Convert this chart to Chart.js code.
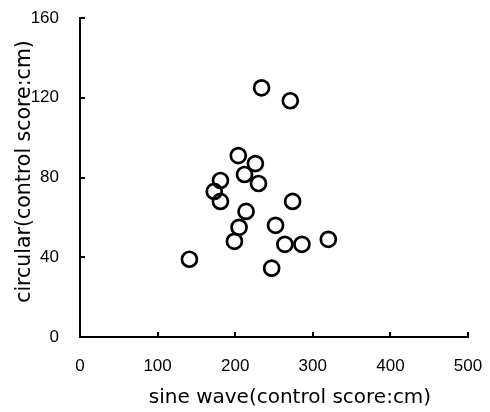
<!DOCTYPE html>
<html>
<head>
<meta charset="utf-8">
<script src="https://cdn.jsdelivr.net/npm/chart.js@4"></script>
<style>
  html, body { margin: 0; padding: 0; background: #fff; }
  #wrap { width: 490px; height: 412px; }
</style>
</head>
<body>
<div id="wrap"><canvas id="grafico" width="490" height="412"></canvas></div>
<script>
// values
const sineWave = [234, 271, 204, 226, 212, 230, 181, 173, 181, 274, 214, 252, 205, 199, 264, 286, 320, 141, 247];
const circular = [125, 118.5, 91, 87, 81.5, 77, 78.5, 73, 68, 68, 63, 56, 55, 48, 46.5, 46.5, 49, 39, 34.5];
const xTicks = [0, 100, 200, 300, 400, 500];
const yTicks = [0, 40, 80, 120, 160];
const xTitle = "sine wave(control score:cm)";
const yTitle = "circular(control score:cm)";

const puntos = sineWave.map((x, i) => ({ x: x, y: circular[i] }));

// inward tick marks + axis titles
const extras = {
  id: 'extras',
  afterDraw(chart) {
    const ctx = chart.ctx;
    const xs = chart.scales.x, ys = chart.scales.y;
    const area = chart.chartArea;
    ctx.save();
    ctx.strokeStyle = '#000';
    ctx.lineWidth = 2;
    ctx.beginPath();
    xTicks.forEach(v => {
      const px = Math.round(xs.getPixelForValue(v));
      if (v === 0) return;
      ctx.moveTo(px, ys.bottom);
      ctx.lineTo(px, ys.bottom - 5);
    });
    yTicks.forEach(v => {
      const py = Math.round(ys.getPixelForValue(v));
      if (v === 0) return;
      ctx.moveTo(xs.left, py);
      ctx.lineTo(xs.left + 5, py);
    });
    ctx.stroke();

    ctx.fillStyle = '#000';
    ctx.font = '20px "DejaVu Sans"';
    ctx.textAlign = 'center';
    ctx.textBaseline = 'middle';
    ctx.fillText(xTitle, (area.left + area.right) / 2 + 16, 398);
    ctx.translate(25, (area.top + area.bottom) / 2 - 6);
    ctx.rotate(-Math.PI / 2);
    ctx.font = '20.5px "DejaVu Sans"';
    ctx.fillText(yTitle, 0, 0);
    ctx.restore();
  }
};

const ctx = document.getElementById('grafico').getContext('2d');
new Chart(ctx, {
  type: 'scatter',
  data: {
    datasets: [{
      data: puntos,
      pointStyle: 'circle',
      pointRadius: 7.5,
      pointHoverRadius: 7.5,
      borderColor: '#000',
      borderWidth: 2.7,
      backgroundColor: 'rgba(0,0,0,0)'
    }]
  },
  options: {
    responsive: false,
    animation: false,
    layout: { padding: { top: 18, right: 22, left: 0, bottom: 0 } },
    plugins: { legend: { display: false }, tooltip: { enabled: false } },
    scales: {
      x: {
        type: 'linear',
        min: 0, max: 500,
        afterBuildTicks: s => { s.ticks = xTicks.map(v => ({ value: v })); },
        afterFit: s => { s.height = 75; s.paddingLeft = 0; s.paddingRight = 0; },
        grid: { display: false },
        border: { display: true, color: '#000', width: 2 },
        ticks: { color: '#000', padding: 11, maxRotation: 0, font: { family: 'Arial, "Liberation Sans"', size: 17 } }
      },
      y: {
        type: 'linear',
        min: 0, max: 160,
        afterBuildTicks: s => { s.ticks = yTicks.map(v => ({ value: v })); },
        afterFit: s => { s.width = 80; s.paddingTop = 0; s.paddingBottom = 0; },
        grid: { display: false },
        border: { display: true, color: '#000', width: 2 },
        ticks: { color: '#000', padding: 13, font: { family: 'Arial, "Liberation Sans"', size: 17 } }
      }
    }
  },
  plugins: [extras]
});
</script>
</body>
</html>
